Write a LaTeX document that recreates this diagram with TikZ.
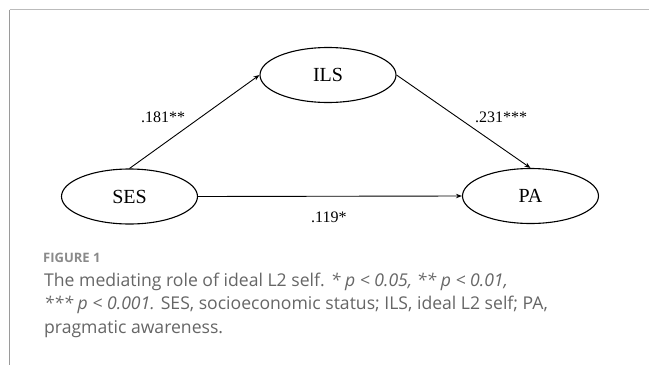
\documentclass[tikz,border=0pt]{standalone}
\usepackage{fontspec}
\setmainfont{Liberation Serif}
\newfontfamily\capfont{Open Sans}
\usetikzlibrary{shapes.geometric,arrows.meta}
\definecolor{capgray}{HTML}{666666}
\definecolor{figgray}{HTML}{8A8A8A}
\definecolor{topline}{HTML}{BBBBBB}
\definecolor{leftline}{HTML}{9A9A9A}
\begin{document}
\begin{tikzpicture}[x=1pt,y=-1pt,
  var/.style={ellipse,draw,line width=1.1pt,inner sep=0pt,minimum width=136pt,minimum height=55pt,font=\fontsize{20}{24}\selectfont},
  pathline/.style={line width=0.9pt,-{Stealth[length=6pt,width=4.5pt]}},
  coef/.style={font=\fontsize{16}{19}\selectfont,anchor=base west,inner sep=0pt},
  captext/.style={font=\capfont\fontsize{17.6}{21}\selectfont,text=capgray,anchor=base west,inner sep=0pt},
  figlabel/.style={font=\capfont\bfseries\fontsize{13}{16}\selectfont,text=figgray,anchor=base west,inner sep=0pt}]
\useasboundingbox (0,0) rectangle (649,365);
\fill[white] (0,0) rectangle (649,365);
% frame
\coordinate (tl) at (9.5,9.5);
\coordinate (tr) at (649,9.5);
\coordinate (bl) at (9.5,365);
\draw[topline,line width=1.8pt] (tl) -- (tr);
\draw[leftline,line width=1.4pt] (tl) -- (bl);
% variables
\node[var] (ses) at (129.5,196.5) {SES};
\node[var] (ils) at (328,75) {ILS};
\node[var] (pa) at (530.5,196) {PA};
% paths
\draw[pathline] (ses.north) -- (ils.west);
\draw[pathline] (ils.east) -- (pa.north);
\draw[pathline] (ses.east) -- (pa.west);
% coefficients
\node[coef] (c1) at (141,122) {.181**};
\node[coef] (c2) at (475,122) {.231***};
\node[coef] (c3) at (311,222) {.119*};
% caption
\node[figlabel] (fig) at (43,262) {FIGURE 1};
\node[captext] (l1) at (44,286) {The mediating role of ideal L2 self. \textit{* p < 0.05, ** p < 0.01,}};
\node[captext] (l2) at (44,309.5) {\textit{*** p < 0.001.} SES, socioeconomic status; ILS, ideal L2 self; PA,};
\node[captext] (l3) at (44,333) {pragmatic awareness.};
\end{tikzpicture}
\end{document}
